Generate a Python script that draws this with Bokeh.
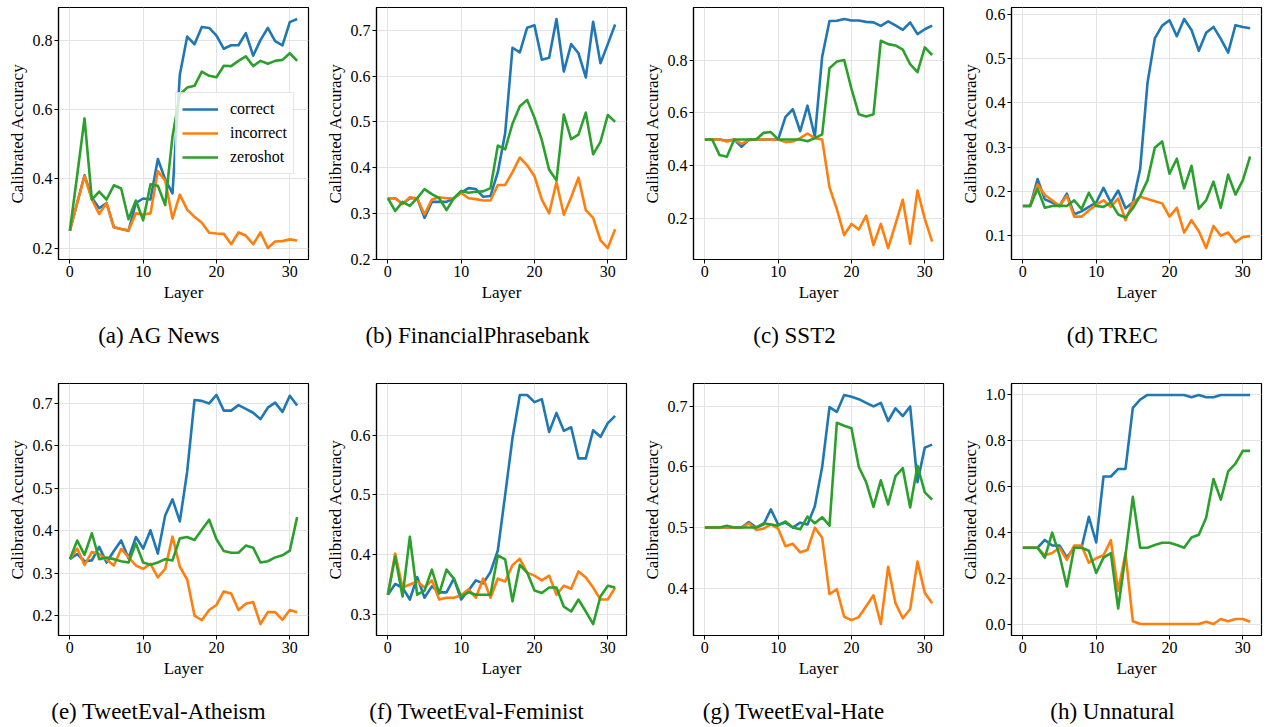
from bokeh.plotting import figure
from bokeh.layouts import column, row
from bokeh.models import FixedTicker, Range1d, Title, NumeralTickFormatter
from bokeh.embed import file_html
from bokeh.resources import INLINE

layers = list(range(32))
x_ticks = [0, 10, 20, 30]
series_names = ["correct", "incorrect", "zeroshot"]

# (a) AG News
ag_correct = [0.25,0.33,0.41,0.345,0.315,0.33,0.26,0.255,0.25,0.33,0.343,0.34,0.457,0.398,0.358,0.70,0.81,0.788,0.838,0.835,0.813,0.775,0.785,0.785,0.82,0.755,0.80,0.835,0.797,0.785,0.852,0.861]
ag_incorrect = [0.25,0.33,0.408,0.34,0.298,0.33,0.26,0.255,0.251,0.30,0.297,0.30,0.422,0.394,0.285,0.354,0.311,0.29,0.273,0.244,0.242,0.241,0.211,0.245,0.236,0.211,0.245,0.20,0.219,0.22,0.225,0.222]
ag_zeroshot = [0.25,0.41,0.574,0.34,0.363,0.34,0.381,0.372,0.283,0.337,0.28,0.384,0.38,0.324,0.522,0.643,0.663,0.668,0.709,0.697,0.693,0.726,0.725,0.74,0.753,0.725,0.74,0.732,0.74,0.743,0.762,0.74]
ag_yticks = [0.2, 0.4, 0.6, 0.8]

# (b) FinancialPhrasebank
fp_correct = [0.333,0.333,0.321,0.333,0.333,0.29,0.325,0.325,0.325,0.333,0.345,0.355,0.353,0.336,0.338,0.39,0.475,0.662,0.652,0.706,0.711,0.636,0.64,0.725,0.61,0.67,0.65,0.597,0.719,0.628,0.67,0.713]
fp_incorrect = [0.333,0.333,0.32,0.335,0.333,0.2975,0.33,0.335,0.333,0.333,0.345,0.333,0.331,0.328,0.328,0.362,0.362,0.39,0.422,0.405,0.381,0.33,0.30,0.368,0.297,0.335,0.378,0.307,0.29,0.241,0.224,0.265]
fp_zeroshot = [0.333,0.305,0.325,0.316,0.333,0.353,0.342,0.333,0.307,0.333,0.349,0.345,0.347,0.348,0.355,0.448,0.44,0.496,0.534,0.548,0.509,0.46,0.395,0.372,0.516,0.462,0.472,0.52,0.429,0.456,0.515,0.5]
fp_yticks = [0.2, 0.3, 0.4, 0.5, 0.6, 0.7]

# (c) SST2
sst_correct = [0.5,0.5,0.5,0.495,0.5,0.4725,0.5,0.5,0.5,0.5,0.5,0.585,0.614,0.531,0.6275,0.51,0.8125,0.9475,0.948,0.955,0.949,0.949,0.944,0.942,0.929,0.946,0.931,0.914,0.942,0.8975,0.916,0.93]
sst_incorrect = [0.5,0.5,0.5,0.492,0.5,0.483,0.497,0.5,0.5,0.5,0.5,0.49,0.492,0.505,0.5225,0.505,0.5,0.319,0.2375,0.139,0.181,0.16,0.2125,0.101,0.181,0.09,0.18,0.2725,0.106,0.3075,0.2,0.114]
sst_zeroshot = [0.5,0.5,0.441,0.435,0.5,0.5,0.5,0.5,0.525,0.528,0.5,0.5,0.5,0.5,0.493,0.505,0.519,0.769,0.794,0.8,0.691,0.595,0.587,0.595,0.8725,0.86,0.855,0.839,0.784,0.754,0.8475,0.819]
sst_yticks = [0.2, 0.4, 0.6, 0.8]

# (d) TREC
trec_correct = [0.167,0.167,0.228,0.182,0.175,0.167,0.195,0.1485,0.155,0.165,0.175,0.208,0.175,0.202,0.162,0.175,0.251,0.445,0.546,0.575,0.587,0.551,0.59,0.565,0.518,0.559,0.572,0.545,0.514,0.576,0.572,0.569]
trec_incorrect = [0.167,0.167,0.216,0.192,0.18,0.167,0.19,0.143,0.143,0.157,0.17,0.18,0.165,0.184,0.135,0.175,0.188,0.183,0.178,0.173,0.143,0.163,0.107,0.135,0.11,0.072,0.122,0.1,0.107,0.085,0.097,0.099]
trec_zeroshot = [0.167,0.167,0.206,0.163,0.167,0.168,0.167,0.18,0.16,0.197,0.167,0.165,0.175,0.148,0.141,0.162,0.19,0.225,0.299,0.313,0.24,0.274,0.207,0.258,0.161,0.18,0.222,0.163,0.238,0.193,0.225,0.279]
trec_yticks = [0.1, 0.2, 0.3, 0.4, 0.5, 0.6]

# (e) TweetEval-Atheism
ath_correct = [0.333,0.345,0.328,0.33,0.362,0.325,0.352,0.377,0.335,0.385,0.358,0.401,0.346,0.436,0.474,0.422,0.539,0.708,0.706,0.70,0.72,0.683,0.683,0.696,0.687,0.678,0.663,0.69,0.702,0.68,0.718,0.695]
ath_incorrect = [0.333,0.358,0.319,0.35,0.345,0.332,0.318,0.357,0.338,0.318,0.31,0.322,0.29,0.31,0.386,0.315,0.285,0.20,0.189,0.213,0.225,0.257,0.252,0.213,0.228,0.232,0.18,0.208,0.208,0.19,0.213,0.208]
ath_zeroshot = [0.333,0.377,0.343,0.394,0.333,0.337,0.333,0.328,0.325,0.37,0.325,0.32,0.325,0.333,0.33,0.382,0.385,0.378,0.402,0.426,0.38,0.352,0.348,0.348,0.365,0.36,0.325,0.328,0.337,0.342,0.353,0.432]
ath_yticks = [0.2, 0.3, 0.4, 0.5, 0.6, 0.7]

# (f) TweetEval-Feminist
fem_correct = [0.333,0.351,0.345,0.325,0.3625,0.328,0.347,0.337,0.337,0.36,0.325,0.34,0.357,0.352,0.371,0.407,0.50,0.595,0.667,0.667,0.655,0.66,0.605,0.637,0.607,0.613,0.561,0.561,0.608,0.597,0.62,0.632]
fem_incorrect = [0.333,0.402,0.345,0.35,0.355,0.345,0.357,0.325,0.328,0.328,0.332,0.342,0.328,0.36,0.328,0.36,0.355,0.3825,0.393,0.37,0.365,0.357,0.365,0.333,0.348,0.343,0.372,0.362,0.345,0.325,0.325,0.345]
fem_zeroshot = [0.333,0.397,0.33,0.43,0.333,0.34,0.375,0.335,0.375,0.36,0.33,0.337,0.333,0.333,0.333,0.399,0.392,0.322,0.383,0.37,0.34,0.336,0.345,0.345,0.313,0.305,0.325,0.305,0.284,0.33,0.348,0.345]
fem_yticks = [0.3, 0.4, 0.5, 0.6]

# (g) TweetEval-Hate
hate_correct = [0.5,0.5,0.5,0.5,0.5,0.5,0.509,0.5,0.505,0.53,0.505,0.508,0.5,0.508,0.505,0.535,0.60,0.699,0.691,0.719,0.716,0.712,0.706,0.70,0.706,0.676,0.697,0.684,0.70,0.575,0.632,0.637]
hate_incorrect = [0.5,0.5,0.5,0.5,0.5,0.5,0.507,0.496,0.498,0.505,0.498,0.469,0.473,0.459,0.463,0.4998,0.483,0.39,0.398,0.3525,0.347,0.352,0.37,0.388,0.3405,0.435,0.375,0.35,0.365,0.4436,0.392,0.375]
hate_zeroshot = [0.5,0.5,0.5,0.503,0.5,0.5,0.5,0.5,0.507,0.505,0.503,0.51,0.5,0.497,0.518,0.507,0.517,0.503,0.673,0.668,0.664,0.6,0.575,0.534,0.578,0.538,0.585,0.598,0.533,0.602,0.558,0.546]
hate_yticks = [0.4, 0.5, 0.6, 0.7]

# (h) Unnatural
unn_correct = [0.333,0.333,0.333,0.367,0.343,0.343,0.291,0.333,0.333,0.468,0.356,0.644,0.644,0.677,0.677,0.944,0.98,1.0,1.0,1.0,1.0,1.0,1.0,0.99,1.0,0.99,0.99,1.0,1.0,1.0,1.0,1.0]
unn_incorrect = [0.333,0.333,0.333,0.30,0.31,0.333,0.28,0.343,0.343,0.268,0.287,0.30,0.366,0.144,0.31,0.012,0.0,0.0,0.0,0.0,0.0,0.0,0.0,0.0,0.0,0.01,0.0,0.022,0.012,0.022,0.022,0.01]
unn_zeroshot = [0.333,0.333,0.333,0.29,0.399,0.30,0.164,0.333,0.333,0.32,0.223,0.29,0.31,0.068,0.30,0.555,0.333,0.333,0.345,0.355,0.355,0.345,0.333,0.378,0.39,0.464,0.633,0.543,0.666,0.70,0.756,0.756]
unn_yticks = [0.0, 0.2, 0.4, 0.6, 0.8, 1.0]

captions = ["(a)  AG News", "(b)  FinancialPhrasebank", "(c)  SST2", "(d)  TREC",
            "(e)  TweetEval-Atheism", "(f)  TweetEval-Feminist", "(g)  TweetEval-Hate", "(h)  Unnatural"]

panels = [
    (ag_correct, ag_incorrect, ag_zeroshot, ag_yticks),
    (fp_correct, fp_incorrect, fp_zeroshot, fp_yticks),
    (sst_correct, sst_incorrect, sst_zeroshot, sst_yticks),
    (trec_correct, trec_incorrect, trec_zeroshot, trec_yticks),
    (ath_correct, ath_incorrect, ath_zeroshot, ath_yticks),
    (fem_correct, fem_incorrect, fem_zeroshot, fem_yticks),
    (hate_correct, hate_incorrect, hate_zeroshot, hate_yticks),
    (unn_correct, unn_incorrect, unn_zeroshot, unn_yticks),
]

COLORS = ["#1f77b4", "#ff7f0e", "#2ca02c"]
FONT = "Liberation Serif"

# approximate Times glyph widths (per em) for caption centring
_W = {" ": .25, "(": .333, ")": .333, "-": .333, "a": .444, "b": .5, "c": .444, "d": .5, "e": .444,
      "f": .333, "g": .5, "h": .5, "i": .278, "k": .5, "l": .278, "m": .778, "n": .5, "o": .5,
      "r": .333, "s": .389, "t": .278, "u": .5, "v": .5, "w": .722, "y": .5,
      "A": .722, "C": .667, "E": .611, "F": .556, "G": .722, "H": .722, "N": .722, "P": .556,
      "R": .667, "S": .556, "T": .611, "U": .722, "2": .5}

CAP_SIZE = 23
FRAME_W = 250
FRAME_H = 252
LEFT_B = 58
TOP_B = 7
FIG_W = [318, 317, 318, 315]
ROW_H = [376, 350]
SPACER_STANDOFF = 14


def text_width(s):
    s = " ".join(s.split())
    return sum(_W.get(ch, .5) for ch in s) * CAP_SIZE


def make_panel(k):
    c, inc, z, yticks = panels[k]
    col = k % 4
    r = k // 4
    width = FIG_W[col]
    height = ROW_H[r]
    bottom_b = height - TOP_B - FRAME_H
    lo = min(min(c), min(inc), min(z))
    hi = max(max(c), max(inc), max(z))
    pad = 0.05 * (hi - lo)
    p = figure(width=width, height=height, output_backend="svg", toolbar_location=None,
               x_range=Range1d(-1.55, 32.55), y_range=Range1d(lo - pad, hi + pad),
               min_border_left=LEFT_B, min_border_right=width - LEFT_B - FRAME_W,
               min_border_top=TOP_B, min_border_bottom=bottom_b,
               background_fill_color="white", border_fill_color="white")
    p.outline_line_color = "black"
    p.outline_line_width = 1.2
    p.outline_line_alpha = 1.0
    for ys, color, name in zip((c, inc, z), COLORS, series_names):
        kw = {"legend_label": name} if k == 0 else {}
        p.line(layers, ys, line_color=color, line_width=2.6, line_join="round", **kw)

    p.xaxis.ticker = FixedTicker(ticks=x_ticks)
    p.yaxis.ticker = FixedTicker(ticks=yticks)
    p.yaxis.formatter = NumeralTickFormatter(format="0.0")
    p.xaxis.axis_label = "Layer"
    p.yaxis.axis_label = "Calibrated Accuracy"
    for ax in (p.xaxis, p.yaxis):
        ax.axis_label_text_font = FONT
        ax.axis_label_text_font_size = "17px"
        ax.axis_label_text_font_style = "normal"
        ax.axis_label_text_color = "black"
        ax.major_label_text_font = FONT
        ax.major_label_text_font_size = "16px"
        ax.major_label_text_color = "black"
        ax.axis_line_color = "black"
        ax.axis_line_width = 1.2
        ax.major_tick_line_color = "black"
        ax.major_tick_out = 4
        ax.major_tick_in = 0
        ax.minor_tick_line_color = None
        ax.major_label_standoff = 2
        ax.axis_label_standoff = 3
    p.grid.grid_line_color = "#e3e3e3"
    p.grid.grid_line_width = 1

    # blank spacer between the axis label and the caption
    spacer = Title(text=" ", text_font_size="2px", text_color="white",
                   standoff=SPACER_STANDOFF, vertical_align="top", align="left")
    p.add_layout(spacer, "below")
    cap = captions[k]
    off = 101 - text_width(cap) / 2
    t = Title(text=cap, align="left", offset=off, vertical_align="top", standoff=0,
              text_font=FONT, text_font_size=f"{CAP_SIZE}px", text_font_style="normal",
              text_color="black")
    p.add_layout(t, "below")

    if k == 0:
        lg = p.legend[0]
        lg.location = (117, 85)
        lg.label_text_font = FONT
        lg.label_text_font_size = "16px"
        lg.label_text_color = "black"
        lg.glyph_width = 36
        lg.glyph_height = 20
        lg.label_height = 20
        lg.label_standoff = 12
        lg.spacing = 4
        lg.padding = 6
        lg.margin = 0
        lg.border_line_color = "#cccccc"
        lg.border_line_width = 1
        lg.background_fill_color = "white"
        lg.background_fill_alpha = 0.8
    return p


figs = [make_panel(k) for k in range(8)]
layout = column(row(*figs[:4]), row(*figs[4:]))
open("out.html", "w").write(file_html(layout, INLINE))
